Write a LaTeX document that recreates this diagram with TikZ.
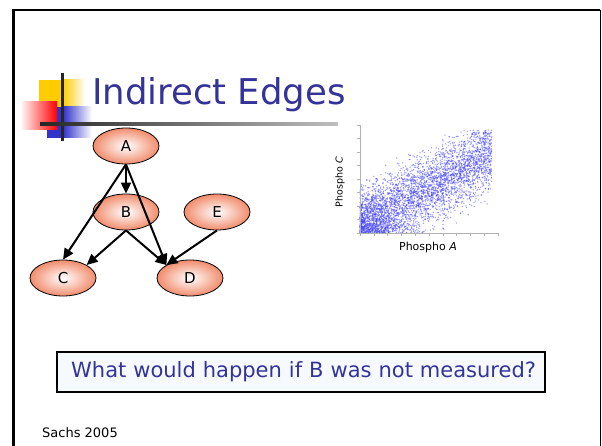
\documentclass[tikz,border=0pt]{standalone}
\usepackage{fontspec}
\setmainfont{DejaVu Sans}
\usetikzlibrary{arrows.meta,positioning,shapes.geometric}

\definecolor{titleblue}{RGB}{51,51,153}
\definecolor{ovalorange}{RGB}{238,112,72}
\definecolor{dotblue}{RGB}{60,60,250}
\definecolor{boxfill}{RGB}{246,250,255}
\definecolor{baryellow}{RGB}{255,204,0}
\definecolor{barblue}{RGB}{51,51,204}
\definecolor{barred}{RGB}{255,0,0}
\pgfdeclareradialshading{ovalshade}{\pgfpoint{0bp}{0bp}}{color(0bp)=(white); color(7bp)=(white!78!ovalorange); color(31bp)=(ovalorange); color(50bp)=(ovalorange)}

\begin{document}
\begin{tikzpicture}[x=1pt, y=-1pt, >={Triangle[length=11pt,width=10pt]},
  oval/.style={ellipse, draw, line width=0.8pt, shading=ovalshade,
    minimum width=66pt, minimum height=36pt, inner sep=0pt,
    font=\fontsize{15}{17}\selectfont},
  edge/.style={->, line width=2pt},
  axisline/.style={draw=black!30, line width=0.6pt},
  qbox/.style={draw, line width=1.5pt, fill=boxfill, text=titleblue,
    minimum width=488pt, minimum height=40pt,
    font=\fontsize{21}{24}\selectfont}]
\useasboundingbox (0,0) rectangle (602,446);
% slide frame
\draw[line width=2.5pt] (13.5,446) -- (13.5,10) -- (600,10);
\draw[line width=1.5pt] (600.5,10) -- (600.5,446);

% title ornament
\fill[baryellow] (39,80) rectangle (63,107);
\shade[left color=baryellow, right color=white] (63,80) rectangle (85,107);
\fill[barblue] (47,107) rectangle (63,138);
\shade[left color=barblue, right color=white] (63,107) rectangle (92,138);
\shade[left color=white, right color=barred] (20,102) rectangle (57,130);
\fill[black!85] (61,73) rectangle (64,141);
\shade[left color=black!85, middle color=black!70, right color=black!25] (40,123) rectangle (338,126);
\node[anchor=base west, inner sep=0pt, text=titleblue, font=\fontsize{35.5}{40}\selectfont] (title) at (92,105) {Indirect Edges};

% network
\node[oval] (A) at (126,146) {A};
\node[oval] (B) at (126,212) {B};
\node[oval] (E) at (217,212) {E};
\node[oval] (C) at (63,278) {C};
\node[oval] (D) at (190,278) {D};
\draw[edge] (A.south) -- (B.north);
\draw[edge] (A.south) -- (C.north);
\draw[edge] (A.south) -- (D.north west);
\draw[edge] (B.south) -- (C.north east);
\draw[edge] (B.south) -- (D.north west);
\draw[edge] (E.south) -- (D.north west);

% scatter plot
\begin{scope}[shift={(360,233)}, x=138pt, y=105pt]
\pgfmathsetseed{2005}
\foreach \i in {1,...,4200}{
  \pgfmathsetmacro\px{0.955*pow(rnd,1.2)}
  \pgfmathsetmacro\py{0.98-abs(0.98-abs(0.06+0.72*\px+0.34*(rnd+rnd+rnd-1.5)))}
  \fill[dotblue, opacity=0.5] (\px,\py) circle[radius=0.75pt];
}
\end{scope}
\draw[axisline] (360,125) -- (360,233) -- (498,233);
\foreach \k in {0,...,8}
  \draw[axisline] (357,{233-13.5*\k}) -- (360,{233-13.5*\k});
\foreach \k in {0,...,10}
  \draw[axisline] ({360+13.8*\k},233) -- ({360+13.8*\k},236);
\node[rotate=90, font=\fontsize{9.5}{11}\selectfont] (ylab) at (340,182) {Phospho \textit{C}};
\node[font=\fontsize{11}{13}\selectfont] (xlab) at (428,247) {Phospho \textit{A}};

% question and source
\node[qbox, text width=470pt, align=right] (question) at (301,372) {What would happen if B was not measured?};
\node[anchor=base west, inner sep=0pt, font=\fontsize{13}{15}\selectfont] (cite) at (42,437) {Sachs 2005};
\end{tikzpicture}
\end{document}
